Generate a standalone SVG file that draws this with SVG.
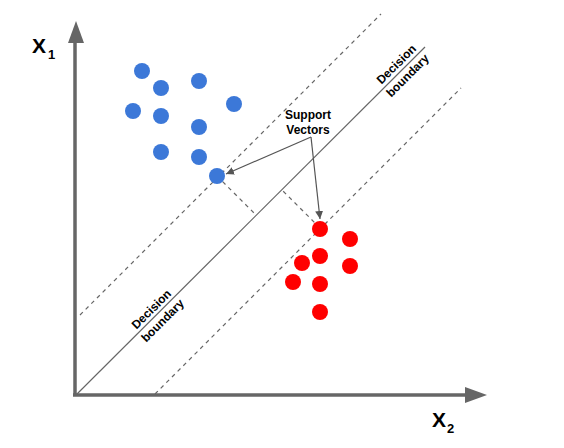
<svg xmlns="http://www.w3.org/2000/svg" width="564" height="448" viewBox="0 0 564 448">
<style>
.axis{stroke:#666;stroke-width:3.5;fill:none}
.line{stroke:#666;stroke-width:1.2;fill:none}
.dash{stroke:#666;stroke-width:1.2;fill:none;stroke-dasharray:4 4}
.ptr{stroke:#555;stroke-width:1.2;fill:none;marker-end:url(#ah)}
.blue{fill:#3c78d8}
.red{fill:#ff0000}
.lbl{font-family:"Liberation Sans",Arial,sans-serif;font-weight:bold;fill:#000}
.ax{font-size:21px}
.sub{font-size:13px}
.db{font-size:12px;text-anchor:middle}
.sv{font-size:12px;text-anchor:middle}
</style>
<defs>
<marker id="ah" viewBox="0 0 10 10" refX="10" refY="5" markerWidth="8" markerHeight="8" markerUnits="userSpaceOnUse" orient="auto">
<path d="M0,0 L10,5 L0,10 z" fill="#555"/>
</marker>
</defs>
<g id="axes">
<line class="axis" x1="75" y1="396" x2="75" y2="40"/>
<polygon points="76,21 68,43 84,43" fill="#666"/>
<line class="axis" x1="73" y1="395" x2="467" y2="395"/>
<polygon points="487,395 465,387 465,403" fill="#666"/>
<text class="lbl ax" x="32" y="53">X</text>
<text class="lbl sub" x="48" y="59">1</text>
<text class="lbl ax" x="432" y="427">X</text>
<text class="lbl sub" x="447" y="433">2</text>
</g>
<g id="connectors">
<line class="line" x1="76" y1="395" x2="425" y2="47"/>
<line class="dash" x1="80" y1="315" x2="381" y2="14"/>
<line class="dash" x1="155" y1="394" x2="461" y2="88"/>
<line class="dash" x1="217" y1="176" x2="256" y2="215"/>
<line class="dash" x1="320" y1="228" x2="282" y2="190"/>
<line class="ptr" x1="311" y1="137" x2="226" y2="174"/>
<line class="ptr" x1="311" y1="137" x2="320" y2="219"/>
</g>
<g id="label-decision-upper" transform="translate(402,70) rotate(-45)">
<text class="lbl db" x="0" y="-4">Decision</text>
<text class="lbl db" x="0" y="12">boundary</text>
</g>
<g id="label-decision-lower" transform="translate(157,315) rotate(-45)">
<text class="lbl db" x="0" y="-4">Decision</text>
<text class="lbl db" x="0" y="12">boundary</text>
</g>
<g id="label-support">
<text class="lbl sv" x="308" y="119">Support</text>
<text class="lbl sv" x="308" y="134">Vectors</text>
</g>
<g id="blue-points">
<circle class="blue" cx="142" cy="71" r="8"/>
<circle class="blue" cx="199" cy="81" r="8"/>
<circle class="blue" cx="161" cy="88" r="8"/>
<circle class="blue" cx="234" cy="104" r="8"/>
<circle class="blue" cx="133" cy="111" r="8"/>
<circle class="blue" cx="161" cy="116" r="8"/>
<circle class="blue" cx="199" cy="127" r="8"/>
<circle class="blue" cx="161" cy="152" r="8"/>
<circle class="blue" cx="199" cy="157" r="8"/>
<circle class="blue" cx="217" cy="176" r="8"/>
</g>
<g id="red-points">
<circle class="red" cx="320" cy="229" r="8"/>
<circle class="red" cx="350" cy="239" r="8"/>
<circle class="red" cx="320" cy="256" r="8"/>
<circle class="red" cx="302" cy="263" r="8"/>
<circle class="red" cx="350" cy="266" r="8"/>
<circle class="red" cx="293" cy="282" r="8"/>
<circle class="red" cx="320" cy="284" r="8"/>
<circle class="red" cx="320" cy="312" r="8"/>
</g>
</svg>
